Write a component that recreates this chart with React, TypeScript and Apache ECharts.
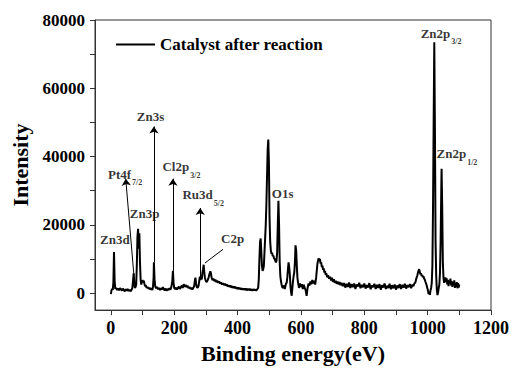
import React, { useEffect, useRef } from 'react';
import * as echarts from 'echarts';

const FONT = "'Liberation Serif', 'Times New Roman', serif";

// XPS survey spectrum: [binding energy (eV), intensity]
const spectrum: [number, number][] = [
  [0, -300], [2, 800], [4, 1200], [6, 900], [8, 3000], [10, 12000], [12, 3500], [14, 1200],
  [17, 1500], [20, 900], [23, 1300], [26, 800], [29, 1400], [32, 1100], [35, 700], [38, 1300],
  [41, 900], [44, 500], [47, 1100], [50, 700], [53, 1200], [56, 600], [59, 1000], [62, 500],
  [65, 900], [68, 1500], [70, 3500], [72, 5800], [74, 3000], [76, 1500], [78, 1800], [80, 2500],
  [82, 8000], [84, 16500], [86, 18800], [88, 13000], [90, 17500], [92, 9000], [94, 4000], [96, 2500],
  [98, 3200], [100, 3800], [102, 3000], [104, 3600], [106, 2700], [108, 2000], [110, 2300], [113, 1500],
  [116, 1800], [119, 1200], [122, 1600], [125, 1000], [128, 1400], [131, 900], [133, 1800], [135, 4500],
  [136, 9000], [138, 4000], [140, 2000], [143, 1400], [146, 1800], [149, 1100], [152, 1500], [155, 900],
  [158, 1400], [161, 1000], [164, 1700], [167, 1200], [170, 800], [173, 1300], [176, 700], [179, 1200],
  [182, 900], [185, 1400], [188, 1000], [191, 1800], [194, 3500], [196, 6500], [198, 3000], [200, 1500],
  [203, 1100], [206, 1600], [209, 1000], [212, 1500], [215, 1900], [218, 1200], [221, 1700], [224, 2200],
  [227, 1500], [230, 2600], [233, 1800], [236, 2400], [239, 1700], [242, 2200], [245, 1400], [248, 1800],
  [251, 1200], [254, 1600], [257, 1000], [260, 1500], [263, 2000], [265, 3500], [267, 4500], [269, 2800],
  [271, 1800], [274, 1500], [277, 2200], [279, 3500], [281, 4800], [283, 3800], [285, 5200], [287, 4000],
  [289, 6000], [291, 7000], [293, 8300], [295, 6000], [297, 4500], [299, 3800], [302, 3200], [305, 3600],
  [308, 4300], [311, 5500], [314, 6400], [316, 5800], [318, 4500], [321, 3800], [324, 4200], [327, 3500],
  [330, 3900], [333, 3200], [336, 3600], [339, 3000], [342, 3400], [345, 2800], [348, 3100], [351, 2500],
  [354, 2900], [357, 2300], [360, 2700], [363, 2200], [366, 2500], [369, 1900], [372, 2300], [375, 1800],
  [378, 2200], [381, 1600], [384, 2000], [387, 1500], [390, 1900], [393, 1400], [396, 1700], [399, 1200],
  [402, 1600], [405, 1100], [408, 1500], [411, 1000], [414, 1400], [417, 1000], [420, 1300], [423, 900],
  [426, 1300], [429, 800], [432, 1200], [435, 900], [438, 1200], [441, 800], [444, 1100], [447, 700],
  [450, 1100], [453, 800], [456, 1000], [459, 700], [462, 1100], [465, 1500], [467, 4000], [469, 10000],
  [471, 15000], [473, 16000], [475, 12000], [477, 8000], [479, 6500], [481, 7000], [483, 8000], [485, 12000],
  [487, 16000], [489, 20000], [491, 26000], [493, 34000], [495, 42000], [497, 45000], [499, 38000], [501, 22000],
  [503, 15000], [505, 12500], [507, 11500], [509, 11800], [511, 10800], [513, 11000], [515, 10200], [517, 10000],
  [519, 9500], [521, 9000], [523, 9500], [525, 12000], [527, 20000], [529, 27000], [531, 20000], [533, 9000],
  [535, 5000], [537, 3500], [539, 2500], [541, 1800], [543, 1500], [545, 2200], [547, 1800], [549, 1200],
  [551, 2000], [553, 2800], [555, 3000], [557, 4500], [559, 7000], [561, 9000], [563, 7500], [565, 5500],
  [567, 2000], [569, 200], [571, -800], [573, 1500], [575, 3500], [577, 5000], [579, 6000], [581, 9000],
  [583, 14000], [585, 12500], [587, 8000], [589, 4500], [591, 3000], [594, 1500], [597, 2800], [600, 1800],
  [603, 2600], [606, 1200], [609, 2400], [612, 1500], [615, 800], [618, -800], [621, 1500], [624, 2800],
  [627, 2200], [630, 3400], [633, 2600], [636, 3800], [639, 2800], [642, 3600], [645, 2500], [648, 4500],
  [650, 6500], [652, 8500], [654, 9500], [656, 10200], [658, 9300], [660, 10000], [662, 8600], [664, 9000],
  [666, 7600], [668, 8000], [670, 6800], [672, 7200], [674, 6000], [676, 6500], [678, 5300], [680, 5800],
  [683, 4600], [686, 5200], [689, 4200], [692, 4800], [695, 3700], [698, 4500], [701, 3300], [704, 4000],
  [707, 3000], [710, 3600], [713, 2700], [716, 3400], [719, 2500], [722, 3200], [725, 2300], [728, 3000],
  [732, 2000], [736, 2900], [740, 1600], [744, 2700], [748, 1800], [752, 3100], [756, 1500], [760, 2600],
  [764, 1700], [768, 2800], [772, 1200], [776, 2500], [780, 1900], [784, 3000], [788, 1400], [792, 2400],
  [796, 1700], [800, 2800], [804, 1300], [808, 2300], [812, 1600], [816, 2900], [820, 1100], [824, 2200],
  [828, 1700], [832, 2700], [836, 1200], [840, 2400], [844, 1500], [848, 2600], [852, 1000], [856, 2300],
  [860, 1600], [864, 2800], [868, 1200], [872, 2100], [876, 1500], [880, 2700], [884, 1100], [888, 2300],
  [892, 1400], [896, 2500], [900, 1000], [904, 2200], [908, 1500], [912, 2600], [916, 1200], [920, 2400],
  [924, 1600], [928, 2700], [932, 1300], [936, 2300], [940, 1700], [944, 2600], [948, 1400], [952, 2500],
  [955, 2000], [958, 2800], [961, 3000], [964, 4200], [967, 5000], [970, 6200], [973, 7000], [975, 6300],
  [977, 5500], [979, 5800], [981, 5000], [983, 5300], [985, 4600], [987, 4900], [989, 4200], [991, 4000],
  [993, 3300], [995, 2800], [997, 2200], [999, 1500], [1001, 700], [1003, -300], [1005, 300], [1007, -500],
  [1009, 800], [1011, 1500], [1013, 3000], [1015, 8000], [1017, 25000], [1019, 50000], [1021, 73500], [1023, 48000],
  [1025, 15000], [1027, 5000], [1029, 1000], [1031, -600], [1033, 200], [1035, 1500], [1037, 2500], [1039, 6000],
  [1041, 15000], [1043, 30000], [1044, 36400], [1046, 25000], [1048, 9000], [1050, 4500], [1052, 3000], [1054, 3800],
  [1056, 4600], [1058, 3200], [1060, 4300], [1062, 2500], [1064, 3900], [1066, 2000], [1068, 3600], [1070, 2800],
  [1072, 4200], [1074, 2200], [1076, 3500], [1078, 1800], [1080, 3300], [1082, 2400], [1084, 3700], [1086, 1500],
  [1088, 2800], [1090, 1800], [1092, 3200], [1094, 1400], [1096, 2900], [1098, 1600], [1100, 2500],
];

const seriesName = 'Catalyst after reaction';

const xTicks = [0, 200, 400, 600, 800, 1000, 1200];
const xAllTicks = [0, 100, 200, 300, 400, 500, 600, 700, 800, 900, 1000, 1100, 1200];
const yTicks = [0, 20000, 40000, 60000, 80000];
const yAllTicks = [0, 10000, 20000, 30000, 40000, 50000, 60000, 70000, 80000];

// peak labels: main text, subscript, anchor [eV, intensity] (left edge, text middle)
const peakNames = ['Zn3d', 'Pt4f', 'Zn3p', 'Zn3s', 'Cl2p', 'Ru3d', 'C2p', 'O1s', 'Zn2p', 'Zn2p'];
const peakSubs = ['', '7/2', '', '', '3/2', '5/2', '', '', '3/2', '1/2'];
const peakLabelAt: [number, number][] = [
  [-34, 15400], [-9, 34700], [60, 23100], [82, 51700], [163, 36900],
  [226, 28700], [348, 15900], [508, 28900], [978, 75900], [1028, 40600],
];

// arrows from peak to label
const arrowFrom: [number, number][] = [[73, 5000], [136, 9000], [196, 6500], [282, 5000]];
const arrowTo: [number, number][] = [[47, 33500], [136, 48800], [196, 33500], [282, 24900]];
const leaderFrom: [number, number] = [297, 8800];
const leaderTo: [number, number] = [354, 12800];

export default function App() {
  const ref = useRef<HTMLDivElement>(null);
  useEffect(() => {
    if (!ref.current) return;
    const chart = echarts.init(ref.current, undefined, { renderer: 'svg' });
    const axisColor = '#333';
    const markData: any[] = arrowFrom.map((f, i) => [
      { coord: f },
      { coord: arrowTo[i] },
    ]);
    markData.push([{ coord: leaderFrom }, { coord: leaderTo, symbol: 'none' }]);
    const plain = (v: number) => String(v);

    chart.setOption({
      animation: false,
      backgroundColor: '#fff',
      textStyle: { fontFamily: FONT },
      grid: {
        left: 95, right: 18, top: 20, bottom: 52,
        show: true, borderColor: axisColor, borderWidth: 1, backgroundColor: 'transparent',
      },
      legend: {
        data: [{ name: seriesName, icon: 'rect' }],
        left: 111, top: 31,
        itemWidth: 39, itemHeight: 2, itemGap: 5,
        itemStyle: { color: '#000' },
        textStyle: { fontFamily: FONT, fontWeight: 'bold', fontSize: 17, color: '#000' },
      },
      xAxis: {
        type: 'value', min: -50, max: 1200,
        name: 'Binding energy(eV)', nameLocation: 'middle', nameGap: 26,
        nameTextStyle: { fontFamily: FONT, fontWeight: 'bold', fontSize: 22, color: '#000' },
        axisLine: { show: true, onZero: false, lineStyle: { color: axisColor, width: 1 } },
        axisTick: { show: true, inside: false, length: 5, customValues: xAllTicks, lineStyle: { color: axisColor, width: 1 } },
        axisLabel: {
          show: true, customValues: xTicks, margin: 9, formatter: plain,
          fontFamily: FONT, fontWeight: 'bold', fontSize: 18, color: '#000',
        },
        splitLine: { show: false },
      },
      yAxis: {
        type: 'value', min: -5000, max: 80000,
        name: 'Intensity', nameLocation: 'middle', nameGap: 60,
        nameTextStyle: { fontFamily: FONT, fontWeight: 'bold', fontSize: 22, color: '#000' },
        axisLine: { show: true, onZero: false, lineStyle: { color: axisColor, width: 1 } },
        axisTick: { show: true, inside: false, length: 5, customValues: yAllTicks, lineStyle: { color: axisColor, width: 1 } },
        axisLabel: {
          show: true, customValues: yTicks, margin: 10, formatter: plain,
          fontFamily: FONT, fontWeight: 'bold', fontSize: 17, color: '#000',
        },
        splitLine: { show: false },
      },
      series: [
        {
          name: seriesName,
          type: 'line',
          data: spectrum,
          symbol: 'none',
          lineStyle: { color: '#000', width: 2 },
          itemStyle: { color: '#000' },
          markLine: {
            silent: true,
            symbol: ['none', 'arrow'],
            symbolSize: 7,
            lineStyle: { color: '#000', width: 1, type: 'solid' },
            label: { show: false },
            emphasis: { disabled: true },
            data: markData,
          },
        },
        {
          name: 'labels',
          type: 'scatter',
          silent: true,
          symbolSize: 0,
          data: peakLabelAt.map((p) => p),
          label: {
            show: true,
            position: [0, -7],
            align: 'left',
            verticalAlign: 'top',
            formatter: (params: any) => {
              const i = params.dataIndex;
              const sub = peakSubs[i];
              return sub ? `{m|${peakNames[i]}}{s|${sub}}` : `{m|${peakNames[i]}}`;
            },
            rich: {
              m: {
                fontFamily: FONT, fontWeight: 'bold', fontSize: 13, lineHeight: 14,
                verticalAlign: 'top', color: '#000',
              },
              s: {
                fontFamily: FONT, fontWeight: 'bold', fontSize: 8, lineHeight: 8,
                padding: [11, 0, 0, 1], verticalAlign: 'top', color: '#000',
              },
            },
          },
        },
      ],
    });
    return () => chart.dispose();
  }, []);
  return (
    <div
      ref={ref}
      style={{ position: 'fixed', left: 0, top: 0, width: 512, height: 369, background: '#fff' }}
    />
  );
}
